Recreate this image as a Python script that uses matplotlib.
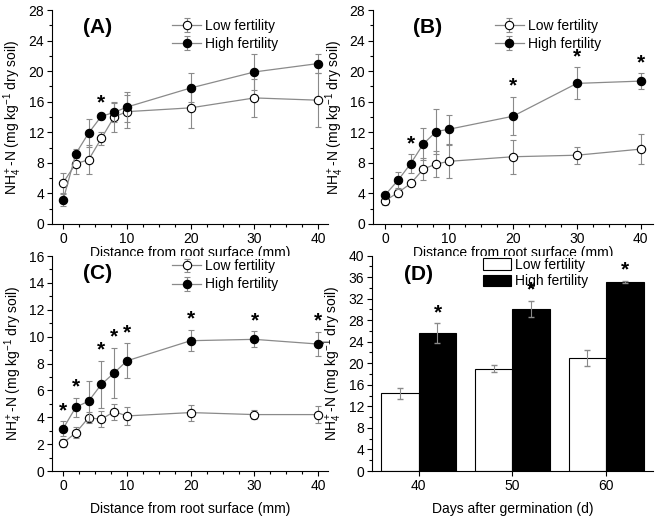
import numpy as np
import matplotlib
matplotlib.use('Agg')
import matplotlib.pyplot as plt
from matplotlib.ticker import MultipleLocator

plt.rcParams['font.family'] = ['Liberation Sans', 'DejaVu Sans']
plt.rcParams['mathtext.fontset'] = 'custom'
plt.rcParams['mathtext.rm'] = 'Liberation Sans'
plt.rcParams['mathtext.it'] = 'Liberation Sans:italic'

# distance from root surface (mm)
dist = [0, 2, 4, 6, 8, 10, 20, 30, 40]

# panel A
a_low = [5.4, 7.9, 8.4, 11.2, 14.0, 14.7, 15.2, 16.5, 16.2]
a_low_err = [1.3, 1.4, 1.9, 0.8, 2.0, 2.2, 2.7, 2.5, 3.5]
a_high = [3.1, 9.2, 11.9, 14.1, 14.6, 15.3, 17.8, 19.9, 21.0]
a_high_err = [0.8, 0.6, 1.8, 0.3, 1.2, 2.0, 1.9, 2.3, 1.3]
a_sig = [6]

# panel B
b_low = [3.05, 4.1, 5.3, 7.2, 7.85, 8.2, 8.8, 9.0, 9.8]
b_low_err = [0.6, 0.6, 0.3, 1.4, 1.7, 2.2, 2.2, 1.1, 2.0]
b_high = [3.8, 5.7, 7.9, 10.5, 12.1, 12.4, 14.1, 18.4, 18.7]
b_high_err = [0.3, 1.1, 1.2, 2.1, 2.9, 1.9, 2.5, 2.1, 1.0]
b_sig = [4, 20, 30, 40]

# panel C
c_low = [2.08, 2.85, 3.97, 3.85, 4.42, 4.1, 4.35, 4.2, 4.2]
c_low_err = [0.3, 0.4, 0.4, 0.6, 0.6, 0.65, 0.6, 0.35, 0.65]
c_high = [3.15, 4.75, 5.2, 6.45, 7.3, 8.2, 9.7, 9.8, 9.45]
c_high_err = [0.55, 0.7, 1.5, 1.75, 1.85, 1.3, 0.8, 0.6, 0.9]
c_sig = [0, 2, 6, 8, 10, 20, 30, 40]

# panel D
days = [40, 50, 60]
d_low = [14.4, 19.0, 21.0]
d_low_err = [1.1, 0.6, 1.5]
d_high = [25.6, 30.1, 35.1]
d_high_err = [1.8, 1.5, 0.25]

ylab = r'NH$_4^+$-N (mg kg$^{-1}$ dry soil)'
xlab = 'Distance from root surface (mm)'
fs = 10


def style(ax):
    for s in ['top', 'right']:
        ax.spines[s].set_visible(False)
    ax.tick_params(which='major', direction='out', length=3.5, width=0.8, labelsize=fs, pad=2)
    ax.tick_params(which='minor', direction='out', length=2, width=0.8)


def line_panel(ax, low, low_err, high, high_err, sig, ymax, ystep, tag, xlpad):
    ax.errorbar(dist, low, yerr=low_err, color='#8a8a8a', lw=0.9, ecolor='#8a8a8a',
                elinewidth=0.8, capsize=2, marker='o', ms=6, mfc='white', mec='black',
                mew=0.8, label='Low fertility', zorder=3)
    ax.errorbar(dist, high, yerr=high_err, color='#8a8a8a', lw=0.9, ecolor='#8a8a8a',
                elinewidth=0.8, capsize=2, marker='o', ms=6, mfc='black', mec='black',
                mew=0.8, label='High fertility', zorder=4)
    for x in sig:
        i = dist.index(x)
        ax.annotate('*', xy=(x, high[i] + high_err[i]), xytext=(0, 1), textcoords='offset points',
                    ha='center', va='bottom', fontsize=15, fontweight='bold')
    ax.set_xlim(-1.75, 41.5)
    ax.set_ylim(0, ymax)
    ax.xaxis.set_major_locator(MultipleLocator(10))
    ax.xaxis.set_minor_locator(MultipleLocator(2.5))
    ax.yaxis.set_major_locator(MultipleLocator(ystep))
    ax.yaxis.set_minor_locator(MultipleLocator(ystep / 2))
    ax.set_xlabel(xlab, fontsize=fs, labelpad=xlpad)
    ax.set_ylabel(ylab, fontsize=fs, labelpad=3)
    ax.text(0.167, 0.92, tag, transform=ax.transAxes, ha='center', va='center',
            fontsize=15, fontweight='bold')
    ax.legend(loc='upper left', bbox_to_anchor=(0.4, 1.005), frameon=False,
              fontsize=fs, handlelength=2.1, handletextpad=0.3,
              labelspacing=0.3, borderpad=0.2)
    style(ax)


fig = plt.figure(figsize=(6.57, 5.18), dpi=100)
axA = fig.add_axes([0.079, 0.5676, 0.42, 0.413])
axB = fig.add_axes([0.5677, 0.5676, 0.426, 0.413])
axC = fig.add_axes([0.079, 0.0907, 0.42, 0.415])
axD = fig.add_axes([0.566, 0.0907, 0.428, 0.416])

line_panel(axA, a_low, a_low_err, a_high, a_high_err, a_sig, 28, 4, '(A)', 0)
line_panel(axB, b_low, b_low_err, b_high, b_high_err, b_sig, 28, 4, '(B)', 0)
axB.set_xlim(-1.9, 41.9)
axB.texts[-1].set_x(0.196)
line_panel(axC, c_low, c_low_err, c_high, c_high_err, c_sig, 16, 2, '(C)', 7)
axC.get_legend().set_bbox_to_anchor((0.4, 1.03))

# panel D bars
x = np.array(days)
w = 4
axD.bar(x - w / 2, d_low, w, color='white', edgecolor='black', lw=0.8, label='Low fertility',
        yerr=d_low_err, error_kw=dict(ecolor='#8a8a8a', elinewidth=0.8, capsize=2))
axD.bar(x + w / 2, d_high, w, color='black', edgecolor='black', lw=0.8, label='High fertility',
        yerr=d_high_err, error_kw=dict(ecolor='#8a8a8a', elinewidth=0.8, capsize=2))
for xi, h, e in zip(x + w / 2, d_high, d_high_err):
    axD.annotate('*', xy=(xi, h + e), xytext=(0, 1), textcoords='offset points',
                 ha='center', va='bottom', fontsize=15, fontweight='bold')
axD.set_xlim(35, 65)
axD.set_ylim(0, 40)
axD.set_xticks(days)
axD.yaxis.set_major_locator(MultipleLocator(4))
axD.yaxis.set_minor_locator(MultipleLocator(2))
axD.set_xlabel('Days after germination (d)', fontsize=fs, labelpad=7)
axD.set_ylabel(ylab, fontsize=fs, labelpad=3)
axD.text(0.167, 0.91, '(D)', transform=axD.transAxes, ha='center', va='center',
         fontsize=15, fontweight='bold')
axD.legend(loc='upper left', bbox_to_anchor=(0.36, 1.035), frameon=False, fontsize=fs,
           handlelength=2.0, handleheight=0.9, handletextpad=0.3, labelspacing=0.2,
           borderpad=0.2)
style(axD)

fig.savefig('out.png', dpi=100)
